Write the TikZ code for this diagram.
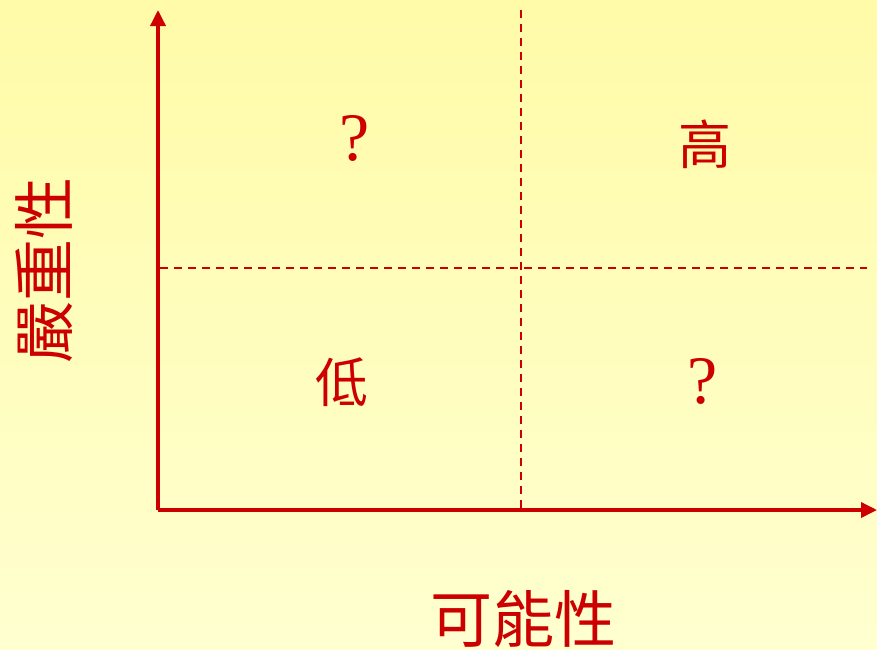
\documentclass[tikz,border=0pt]{standalone}
\usepackage{fontspec}
\newfontfamily\cjk{Noto Sans CJK TC}
\setmainfont{Liberation Serif}
\usetikzlibrary{arrows.meta}
\definecolor{axred}{HTML}{CC0000}
\definecolor{bgtop}{HTML}{FFFBA8}
\definecolor{bgbot}{HTML}{FFFFD0}
\begin{document}
\begin{tikzpicture}[x=1pt,y=-1pt,
  axis/.style={draw=axred,line width=3.5pt,-{Triangle[length=16pt,width=15pt]}},
  grid/.style={draw=axred,line width=1.6pt,dash pattern=on 8pt off 6pt},
  lab/.style={text=axred,inner sep=0pt,font=\cjk\fontsize{53}{53}\selectfont},
  qm/.style={text=axred,inner sep=0pt,font=\fontsize{68}{68}\selectfont}]
\shade[top color=bgtop,bottom color=bgbot] (0,0) rectangle (877,649);
\useasboundingbox (0,0) rectangle (877,649);
\coordinate (O) at (158,510);
\coordinate (Ytop) at (158,10);
\coordinate (Xend) at (877,510);
\coordinate (Vtop) at (521,10);
\coordinate (Vbot) at (521,510);
\coordinate (Hl) at (160,268);
\coordinate (Hr) at (867,268);
\draw[grid] (Vtop) -- (Vbot);
\draw[grid] (Hl) -- (Hr);
\draw[axis] (O) -- (Ytop);
\draw[axis] (O) -- (Xend);
\node[qm] (q1) at (355,138) {?};
\node[lab] (hi) at (705,144) {高};
\node[lab] (lo) at (342,382) {低};
\node[qm] (q2) at (703,381) {?};
\node[lab,rotate=90,font=\cjk\fontsize{62}{62}\selectfont] (ylab) at (44,270) {嚴重性};
\node[lab,font=\cjk\fontsize{62}{62}\selectfont] (xlab) at (523,619) {可能性};
\end{tikzpicture}
\end{document}
